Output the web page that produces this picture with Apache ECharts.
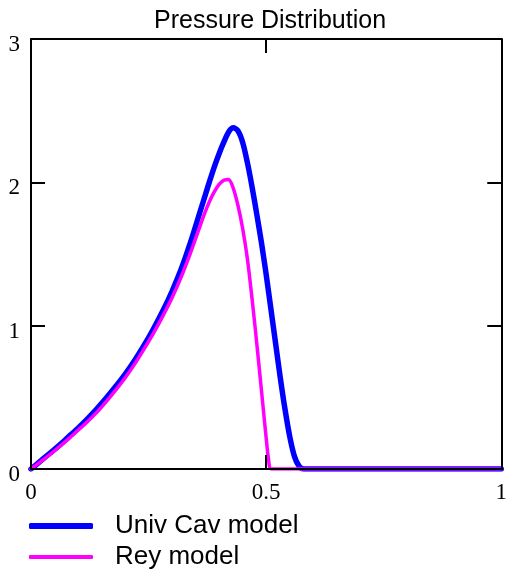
<!DOCTYPE html>
<html>
<head>
<meta charset="utf-8">
<script src="https://cdn.jsdelivr.net/npm/echarts@6/dist/echarts.min.js"></script>
<style>html,body{margin:0;padding:0;background:#fff}#c{width:510px;height:575px}</style>
</head>
<body>
<div id="c"></div>
<script>
const titleText = 'Pressure Distribution';
const seriesNames = ['Univ Cav model', 'Rey model'];
const xUniv = [0,0.02,0.04,0.06,0.08,0.10,0.12,0.14,0.16,0.18,0.20,0.22,0.24,0.26,0.28,0.30,0.32,0.34,0.36,0.37,0.38,0.39,0.40,0.41,0.42,0.43,0.44,0.45,0.46,0.47,0.48,0.49,0.50,0.51,0.52,0.53,0.54,0.55,0.56,0.57,0.58,0.60,1.0];
const yUniv = [0,0.055,0.11,0.165,0.225,0.285,0.35,0.42,0.495,0.575,0.66,0.755,0.86,0.975,1.10,1.24,1.40,1.59,1.80,1.905,2.01,2.11,2.20,2.28,2.35,2.38,2.36,2.28,2.14,1.97,1.78,1.58,1.36,1.12,0.88,0.64,0.42,0.23,0.09,0.02,0,0,0];
const xRey = [0,0.02,0.04,0.06,0.08,0.10,0.12,0.14,0.16,0.18,0.20,0.22,0.24,0.26,0.28,0.30,0.32,0.34,0.36,0.37,0.38,0.39,0.40,0.41,0.42,0.43,0.44,0.45,0.46,0.47,0.48,0.49,0.50,0.505,0.51,0.53,1.0];
const yRey = [0,0.05,0.10,0.155,0.21,0.27,0.33,0.395,0.47,0.55,0.635,0.73,0.835,0.945,1.065,1.195,1.345,1.515,1.70,1.79,1.87,1.935,1.985,2.015,2.02,1.96,1.84,1.68,1.47,1.19,0.88,0.55,0.22,0.07,0,0,0];

const pairs = (xs, ys) => xs.map((x, i) => [x, ys[i]]);
const serif = 'Liberation Serif';
const sans = 'Liberation Sans';

const frameAxis = {
  axisLine: { show: true, onZero: false, lineStyle: { color: '#000', width: 2 } },
  axisTick: { show: true, inside: true, length: 14, lineStyle: { color: '#000', width: 2 } },
  splitLine: { show: false },
  z: 5
};

const legendBase = {
  orient: 'vertical', left: 29, padding: 0, icon: 'roundRect', itemWidth: 64,
  textStyle: { fontFamily: sans, fontSize: 26, color: '#000', padding: [0, 0, 0, 17] }
};

const chart = echarts.init(document.getElementById('c'), null, { renderer: 'canvas' });
chart.setOption({
  animation: false,
  backgroundColor: '#fff',
  title: {
    text: titleText,
    left: 149, top: 4,
    textStyle: { fontFamily: sans, fontSize: 25, fontWeight: 'normal', color: '#000' }
  },
  legend: [
    Object.assign({}, legendBase, { top: 513, itemHeight: 6, data: [seriesNames[0]] }),
    Object.assign({}, legendBase, { top: 544, itemHeight: 4, data: [seriesNames[1]] })
  ],
  grid: { left: 31, right: 7, top: 39, bottom: 106, containLabel: false },
  xAxis: [
    Object.assign({}, frameAxis, {
      type: 'value', position: 'bottom', min: 0, max: 1, interval: 0.5,
      axisLabel: { show: true, margin: 12, fontFamily: serif, fontSize: 23, color: '#000' }
    }),
    Object.assign({}, frameAxis, {
      type: 'value', position: 'top', min: 0, max: 1, interval: 0.5,
      axisLabel: { show: false }
    })
  ],
  yAxis: [
    Object.assign({}, frameAxis, {
      type: 'value', position: 'left', min: 0, max: 3, interval: 1,
      axisLabel: {
        show: true, margin: 11, formatter: '{a|{value}}',
        rich: { a: { fontFamily: serif, fontSize: 23, color: '#000', padding: [12, 0, 0, 0] } }
      }
    }),
    Object.assign({}, frameAxis, {
      type: 'value', position: 'right', min: 0, max: 3, interval: 1,
      axisLabel: { show: false }
    })
  ],
  series: [
    {
      name: seriesNames[0], type: 'line', xAxisIndex: 0, yAxisIndex: 0,
      data: pairs(xUniv, yUniv), symbol: 'none', smooth: 0.3, clip: true,
      lineStyle: { color: '#0000ff', width: 5.5, cap: 'round', join: 'round' },
      itemStyle: { color: '#0000ff' }, z: 2
    },
    {
      name: seriesNames[1], type: 'line', xAxisIndex: 0, yAxisIndex: 0,
      data: pairs(xRey, yRey), symbol: 'none', smooth: 0.3, clip: true,
      lineStyle: { color: '#ff00ff', width: 3.5, cap: 'round', join: 'round' },
      itemStyle: { color: '#ff00ff' }, z: 3
    }
  ]
});
</script>
</body>
</html>
